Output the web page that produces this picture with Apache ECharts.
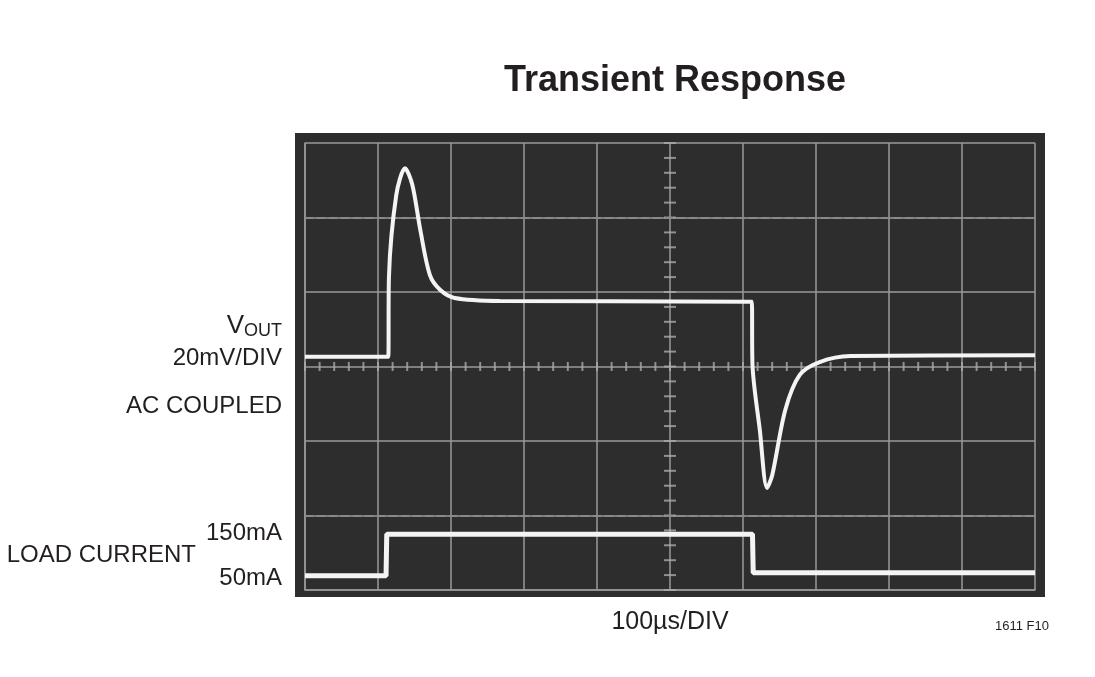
<!DOCTYPE html><html><head><meta charset="utf-8"><script src="https://cdn.jsdelivr.net/npm/echarts@6/dist/echarts.min.js"></script>
<style>body{margin:0;background:#fff}#c{width:1095px;height:677px}</style></head><body><div id="c"></div><script>
const voutX=[0,1.14,1.15,1.25,1.37,1.47,1.58,1.71,1.85,2.05,2.67,6.12,6.13,6.23,6.33,6.40,6.58,6.78,7.05,7.47,10];
const voutY=[3.13,3.13,4.2,5.3,5.66,5.44,4.83,4.23,4.03,3.92,3.88,3.87,3.02,2.15,1.37,1.54,2.42,2.89,3.06,3.14,3.15];
const loadX=[0,1.11,1.12,6.13,6.14,10];
const loadY=[0.19,0.19,0.75,0.75,0.23,0.23];
const F='"Liberation Sans Narrow","Liberation Sans",sans-serif';
const ch=echarts.init(document.getElementById('c'));
const pts=(xs,ys)=>xs.map((x,i)=>[x,ys[i]]);
const minor=[];for(let i=0;i<=50;i++)minor.push([i/5,3]);
const minorV=[];for(let i=0;i<=30;i++)minorV.push([5,i/5]);
ch.setOption({
 animation:false,
 title:{text:'Transient Response',left:670,top:58,textAlign:'center',textStyle:{fontFamily:F,fontSize:36,fontWeight:'bold',color:'#231f20'}},
 graphic:[
  {type:'rect',z:-1,shape:{x:295,y:133,width:750,height:464},style:{fill:'#2d2d2d'}},
  {type:'text',left:'auto',x:282,y:312,style:{text:'{a|V}{b|OUT}',align:'right',rich:{a:{fontFamily:F,fontSize:26,fill:'#231f20'},b:{fontFamily:F,fontSize:18,fill:'#231f20',padding:[10,0,0,0]}}}},
  {type:'text',x:282,y:346,style:{text:'20mV/DIV',align:'right',font:'24px '+F,fill:'#231f20'}},
  {type:'text',x:282,y:394,style:{text:'AC COUPLED',align:'right',font:'24px '+F,fill:'#231f20'}},
  {type:'text',x:282,y:521,style:{text:'150mA',align:'right',font:'24px '+F,fill:'#231f20'}},
  {type:'text',x:282,y:566,style:{text:'50mA',align:'right',font:'24px '+F,fill:'#231f20'}},
  {type:'text',x:196,y:543,style:{text:'LOAD CURRENT',align:'right',font:'24px '+F,fill:'#231f20'}},
  {type:'text',x:670,y:610,style:{text:'100µs/DIV',align:'center',font:'25px '+F,fill:'#231f20'}},
  {type:'text',x:1022,y:620,style:{text:'1611 F10',align:'center',font:'13px '+F,fill:'#231f20'}}
 ],
 grid:{left:305,right:60,top:143,bottom:87},
 xAxis:{type:'value',min:0,max:10,interval:1,axisLabel:{show:false},axisTick:{show:false},axisLine:{show:true,lineStyle:{color:'#999',width:1.5}},splitLine:{lineStyle:{color:'#9a9a9a',width:1.5}}},
 yAxis:{type:'value',min:0,max:6,interval:1,axisLabel:{show:false},axisTick:{show:false},axisLine:{show:true,lineStyle:{color:'#999',width:1.5}},splitLine:{lineStyle:{color:'#9a9a9a',width:1.5}}},
 series:[
  {type:'line',data:[],markLine:{silent:true,symbol:'none',label:{show:false},lineStyle:{type:'dashed',color:'#8a8a8a',width:2},data:[{yAxis:5},{yAxis:1}]}},
  {type:'scatter',data:minor,symbol:'rect',symbolSize:[2,9],itemStyle:{color:'#aaa'},silent:true},
  {type:'scatter',data:minorV,symbol:'rect',symbolSize:[12,2],itemStyle:{color:'#aaa'},silent:true},
  {type:'line',data:pts(voutX,voutY),smooth:0.3,showSymbol:false,lineStyle:{color:'#f4f4f4',width:4},z:5},
  {type:'line',data:pts(loadX,loadY),showSymbol:false,lineStyle:{color:'#f4f4f4',width:5},z:5}
 ]
});
</script></body></html>
